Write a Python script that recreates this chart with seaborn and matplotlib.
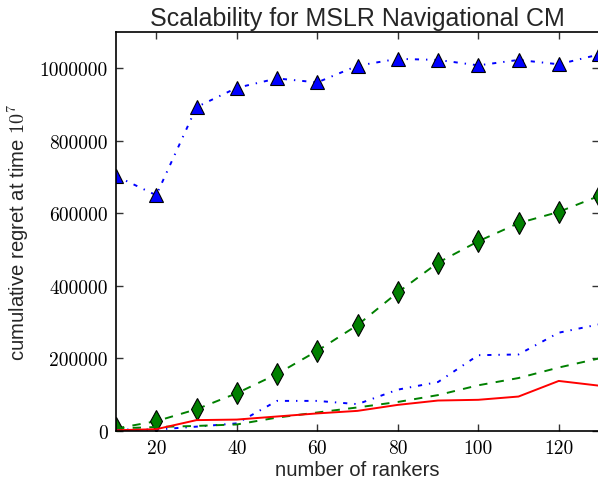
import matplotlib
matplotlib.use("Agg")
import matplotlib.pyplot as plt
import seaborn as sns
import numpy as np

rankers = [10, 20, 30, 40, 50, 60, 70, 80, 90, 100, 110, 120, 130]
blue_tri = [703000, 650000, 893000, 946000, 972000, 961000, 1007000, 1026000, 1023000, 1008000, 1023000, 1011000, 1038000]
green_dia = [7000, 27000, 60000, 104000, 157000, 221000, 292000, 382000, 464000, 523000, 573000, 604000, 648000]
blue_dd = [4000, 4000, 12000, 21000, 83000, 83000, 74000, 114000, 135000, 209000, 211000, 271000, 294000]
green_ds = [7000, 11000, 14000, 18000, 37000, 51000, 65000, 80000, 99000, 126000, 146000, 175000, 200000]
red_solid = [2000, 5000, 30000, 31500, 40000, 48500, 55500, 72000, 84000, 86000, 95000, 138000, 125000]

title = "Scalability for MSLR Navigational CM"
xlabel = "number of rankers"
ylabel = r"cumulative regret at time $10^7$"
xticks = [20, 40, 60, 80, 100, 120]
yticks = [0, 200000, 400000, 600000, 800000, 1000000]

sns.set_style("ticks")
plt.rcParams["font.family"] = ["Liberation Sans", "DejaVu Sans"]
plt.rcParams["mathtext.fontset"] = "cm"
plt.rcParams["lines.scale_dashes"] = False

DASH = (0, (6, 6))
DASHDOT = (0, (3, 5, 1, 5))

fig = plt.figure(figsize=(5.98, 4.81), dpi=100)
ax = fig.add_axes([116/598, 1 - 432/481, (599-116)/598, (432-33)/481])

sns.lineplot(x=rankers, y=blue_tri, ax=ax, color="blue", linestyle=DASHDOT, lw=1.4,
             marker="^", markersize=10, markeredgecolor="black", markeredgewidth=0.8)
sns.lineplot(x=rankers, y=green_dia, ax=ax, color="green", linestyle=DASH, lw=1.4,
             marker="d", markersize=11, markeredgecolor="black", markeredgewidth=0.8)
sns.lineplot(x=rankers, y=blue_dd, ax=ax, color="blue", linestyle=DASHDOT, lw=1.4)
sns.lineplot(x=rankers, y=green_ds, ax=ax, color="green", linestyle=DASH, lw=1.4)
sns.lineplot(x=rankers, y=red_solid, ax=ax, color="red", linestyle="-", lw=1.4)

ax.set_xlim(10, 130)
ax.set_ylim(0, 1100000)
ax.set_xticks(xticks)
ax.set_yticks(yticks)
ax.set_xticklabels([str(t) for t in xticks], fontfamily="cmr10", fontsize=14)
ax.set_yticklabels([str(t) for t in yticks], fontfamily="cmr10", fontsize=14)
ax.tick_params(direction="in", top=True, right=True, length=5, width=1, colors="#333333", labelcolor="black", pad=6)
for s in ax.spines.values():
    s.set_linewidth(1.2)
    s.set_color("black")
ax.set_title(title, fontsize=18, pad=5)
ax.set_xlabel(xlabel, fontsize=14.6, labelpad=2)
ax.set_ylabel(ylabel, fontsize=14.6, labelpad=6)

fig.savefig("out.png", dpi=100)
